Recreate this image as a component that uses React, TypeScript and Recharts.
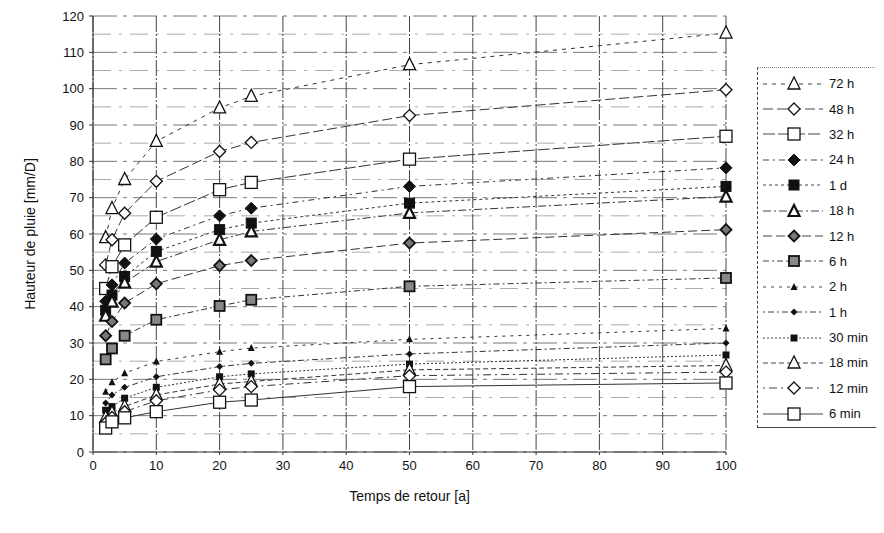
import React from 'react';
import { LineChart, Line, XAxis, YAxis, CartesianGrid, Legend } from 'recharts';

// temps de retour [a]
const returnPeriods = [2, 3, 5, 10, 20, 25, 50, 100];

// hauteur de pluie [mm/D] par durée
const h72 = [59, 67, 75, 85.5, 94.7, 97.9, 106.6, 115.3];
const h48 = [51.5, 58.4, 65.7, 74.5, 82.7, 85.2, 92.6, 99.7];
const h32 = [45, 51, 57, 64.6, 72.2, 74.2, 80.6, 86.9];
const h24 = [41.5, 46, 52, 58.6, 65, 67.1, 73.1, 78.2];
const d1 = [39, 43.2, 48.3, 55.2, 61.2, 63, 68.5, 73.1];
const h18 = [37.5, 41.4, 46.6, 52.4, 58.4, 60.7, 65.8, 70.3];
const h12 = [32, 35.9, 41, 46.3, 51.3, 52.7, 57.5, 61.2];
const h6 = [25.5, 28.5, 32, 36.4, 40.2, 41.9, 45.6, 47.9];
const h2 = [16.6, 19.2, 21.7, 24.9, 27.6, 28.6, 31, 34];
const h1 = [13.5, 15.7, 17.8, 20.7, 23.5, 24.4, 27, 30];
const m30 = [11.5, 12.5, 14.8, 17.8, 20.7, 21.5, 24.2, 26.7];
const m18 = [9.5, 10.8, 12.5, 15.7, 18.7, 19.4, 22.6, 23.8];
const m12 = [8, 9.5, 11.1, 14.1, 17.1, 18, 21, 22];
const m6 = [6.6, 8.3, 9.4, 11.1, 13.7, 14.3, 18, 19];

const xTicks = [0, 10, 20, 30, 40, 50, 60, 70, 80, 90, 100];
const yTicks = [0, 10, 20, 30, 40, 50, 60, 70, 80, 90, 100, 110, 120];
const hGrid = [5, 15, 25, 35, 45, 55, 65, 75, 85, 95, 105, 115];

type Shape =
  | 'triOpen' | 'diaOpen' | 'sqOpen' | 'diaFill' | 'sqFill' | 'triBold'
  | 'diaGray' | 'sqHatch' | 'triSmall' | 'diaSmall' | 'sqSmall';

const series: { key: string; name: string; values: number[]; shape: Shape; dash: string }[] = [
  { key: 'h72', name: '72 h', values: h72, shape: 'triOpen', dash: '4 5' },
  { key: 'h48', name: '48 h', values: h48, shape: 'diaOpen', dash: '10 4' },
  { key: 'h32', name: '32 h', values: h32, shape: 'sqOpen', dash: '12 3' },
  { key: 'h24', name: '24 h', values: h24, shape: 'diaFill', dash: '6 4 2 4' },
  { key: 'd1', name: '1 d', values: d1, shape: 'sqFill', dash: '3 3' },
  { key: 'h18', name: '18 h', values: h18, shape: 'triBold', dash: '8 3 2 3' },
  { key: 'h12', name: '12 h', values: h12, shape: 'diaGray', dash: '9 4' },
  { key: 'h6', name: '6 h', values: h6, shape: 'sqHatch', dash: '6 3 2 3' },
  { key: 'h2', name: '2 h', values: h2, shape: 'triSmall', dash: '3 5' },
  { key: 'h1', name: '1 h', values: h1, shape: 'diaSmall', dash: '2 3 6 3' },
  { key: 'm30', name: '30 min', values: m30, shape: 'sqSmall', dash: '2 2' },
  { key: 'm18', name: '18 min', values: m18, shape: 'triOpen', dash: '5 3' },
  { key: 'm12', name: '12 min', values: m12, shape: 'diaOpen', dash: '2 4 8 4' },
  { key: 'm6', name: '6 min', values: m6, shape: 'sqOpen', dash: '' },
];

const data = returnPeriods.map((x, i) => {
  const row: Record<string, number> = { x };
  series.forEach((s) => {
    row[s.key] = s.values[i];
  });
  return row;
});

function Marker({ cx, cy, shape }: { cx: number; cy: number; shape: Shape }) {
  const k = '#111';
  switch (shape) {
    case 'triOpen':
      return <polygon points={`${cx},${cy - 7} ${cx - 6},${cy + 5} ${cx + 6},${cy + 5}`} fill="#fff" stroke={k} strokeWidth={1.3} />;
    case 'triBold':
      return <polygon points={`${cx},${cy - 6} ${cx - 5.5},${cy + 5} ${cx + 5.5},${cy + 5}`} fill="#fff" stroke={k} strokeWidth={2.2} />;
    case 'diaOpen':
      return <polygon points={`${cx},${cy - 6} ${cx + 6},${cy} ${cx},${cy + 6} ${cx - 6},${cy}`} fill="#fff" stroke={k} strokeWidth={1.3} />;
    case 'diaGray':
      return <polygon points={`${cx},${cy - 5.5} ${cx + 5.5},${cy} ${cx},${cy + 5.5} ${cx - 5.5},${cy}`} fill="#777" stroke={k} strokeWidth={1.8} />;
    case 'diaFill':
      return <polygon points={`${cx},${cy - 6} ${cx + 6},${cy} ${cx},${cy + 6} ${cx - 6},${cy}`} fill={k} stroke={k} />;
    case 'sqOpen':
      return <rect x={cx - 6} y={cy - 6} width={12} height={12} fill="#fff" stroke={k} strokeWidth={1.3} />;
    case 'sqFill':
      return <rect x={cx - 5} y={cy - 5} width={10} height={10} fill={k} stroke={k} />;
    case 'sqHatch':
      return <rect x={cx - 5} y={cy - 5} width={10} height={10} fill="#888" stroke={k} strokeWidth={1.8} />;
    case 'triSmall':
      return <polygon points={`${cx},${cy - 4} ${cx - 3.5},${cy + 3} ${cx + 3.5},${cy + 3}`} fill={k} />;
    case 'diaSmall':
      return <polygon points={`${cx},${cy - 3.5} ${cx + 3.5},${cy} ${cx},${cy + 3.5} ${cx - 3.5},${cy}`} fill={k} />;
    case 'sqSmall':
      return <rect x={cx - 3.5} y={cy - 3.5} width={7} height={7} fill={k} />;
  }
  return null;
}

function LegendBox() {
  return (
    <div
      style={{
        width: 127,
        paddingTop: 3,
        paddingBottom: 1,
        borderLeft: '1px dashed #444',
        borderTop: '1px dotted #888',
        borderBottom: '1px solid #444',
        background: '#fff',
        fontFamily: 'Liberation Sans, Arial, sans-serif',
        fontSize: 13,
        color: '#111',
      }}
    >
      {series.map((s) => (
        <div key={s.key} style={{ height: 25.4, display: 'flex', alignItems: 'center' }}>
          <svg width={68} height={20} style={{ display: 'block' }}>
            <line x1={5} y1={10} x2={65} y2={10} stroke="#444" strokeDasharray={s.dash || undefined} />
            <Marker cx={36} cy={10} shape={s.shape} />
          </svg>
          <span style={{ marginLeft: 3 }}>{s.name}</span>
        </div>
      ))}
    </div>
  );
}

export default function App() {
  const font = 'Liberation Sans, Arial, sans-serif';
  return (
    <div style={{ width: 876, height: 517 }}>
      <LineChart width={876} height={517} data={data} margin={{ top: 8, right: 158, bottom: 43, left: 0 }}>
        <CartesianGrid horizontalValues={hGrid} vertical={false} stroke="#aaa" strokeDasharray="18 8 3 8" />
        <CartesianGrid horizontalValues={yTicks} vertical={false} stroke="#777" strokeDasharray="24 6 4 6" />
        <CartesianGrid verticalValues={xTicks} horizontal={false} stroke="#444" strokeDasharray="16 2 2 2" />
        <XAxis
          type="number"
          dataKey="x"
          domain={[0, 100]}
          ticks={xTicks}
          height={30}
          tickSize={3}
          tickMargin={6}
          stroke="#333"
          tick={{ fill: '#111', fontSize: 13, fontFamily: font }}
          label={{ value: 'Temps de retour [a]', position: 'bottom', offset: 9, fill: '#111', fontSize: 14, fontFamily: font }}
        />
        <YAxis
          type="number"
          domain={[0, 120]}
          ticks={yTicks}
          width={85}
          tickSize={4}
          tickMargin={5}
          stroke="#333"
          tick={{ fill: '#111', fontSize: 13, fontFamily: font }}
          label={{ value: 'Hauteur de pluie [mm/D]', angle: -90, position: 'insideLeft', offset: 22, fill: '#111', fontSize: 14, fontFamily: font, style: { textAnchor: 'middle' } }}
        />
        <Legend
          layout="horizontal"
          align="center"
          verticalAlign="middle"
          content={() => <LegendBox />}
          wrapperStyle={{ left: 749, top: 59, width: 127, height: 362 }}
        />
        {series.map((s) => (
          <Line
            key={s.key}
            dataKey={s.key}
            name={s.name}
            type="linear"
            stroke="#333"
            strokeWidth={1}
            strokeDasharray={s.dash || undefined}
            isAnimationActive={false}
            dot={(p: any) => <Marker key={`${s.key}-${p.index}`} cx={p.cx} cy={p.cy} shape={s.shape} />}
            activeDot={false}
          />
        ))}
      </LineChart>
    </div>
  );
}
